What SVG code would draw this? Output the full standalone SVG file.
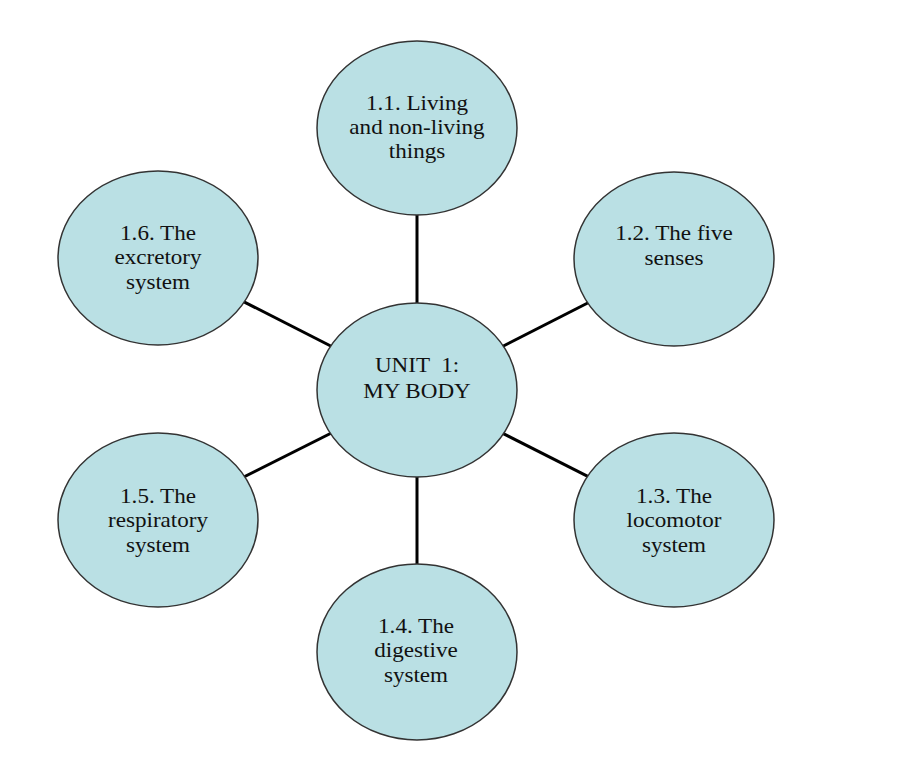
<svg xmlns="http://www.w3.org/2000/svg" width="901" height="771" viewBox="0 0 901 771">
<style>
.n{fill:#bae0e4;stroke:#333;stroke-width:1.5}
.c{stroke:#000;stroke-width:3;fill:none}
.t{font-family:"Liberation Serif","Times New Roman",serif;font-size:21px;fill:#111;text-anchor:middle;white-space:pre}
</style>
<rect width="901" height="771" fill="#fff"/>
<g id="connectors">
<line class="c" x1="417" y1="390" x2="417" y2="128"/>
<line class="c" x1="417" y1="390" x2="674" y2="259"/>
<line class="c" x1="417" y1="390" x2="674" y2="520"/>
<line class="c" x1="417" y1="390" x2="417" y2="652"/>
<line class="c" x1="417" y1="390" x2="158" y2="520"/>
<line class="c" x1="417" y1="390" x2="158" y2="258"/>
</g>
<g id="center">
<ellipse class="n" cx="417" cy="390" rx="100" ry="87"/>
<text class="t" transform="translate(417 372) scale(1.1 1)" xml:space="preserve"><tspan x="0" y="0">UNIT  1:</tspan><tspan x="0" y="26">MY BODY</tspan></text>
</g>
<g id="n11">
<ellipse class="n" cx="417" cy="128" rx="100" ry="87"/>
<text class="t" transform="translate(417 110) scale(1.1 1)"><tspan x="0" y="0">1.1. Living</tspan><tspan x="0" y="24">and non-living</tspan><tspan x="0" y="48">things</tspan></text>
</g>
<g id="n12">
<ellipse class="n" cx="674" cy="259" rx="100" ry="87"/>
<text class="t" transform="translate(674 240) scale(1.1 1)"><tspan x="0" y="0">1.2. The five</tspan><tspan x="0" y="25">senses</tspan></text>
</g>
<g id="n13">
<ellipse class="n" cx="674" cy="520" rx="100" ry="87"/>
<text class="t" transform="translate(674 503) scale(1.1 1)"><tspan x="0" y="0">1.3. The</tspan><tspan x="0" y="24.5">locomotor</tspan><tspan x="0" y="49">system</tspan></text>
</g>
<g id="n14">
<ellipse class="n" cx="417" cy="652" rx="100" ry="88"/>
<text class="t" transform="translate(416 633) scale(1.1 1)"><tspan x="0" y="0">1.4. The</tspan><tspan x="0" y="24.5">digestive</tspan><tspan x="0" y="49">system</tspan></text>
</g>
<g id="n15">
<ellipse class="n" cx="158" cy="520" rx="100" ry="87"/>
<text class="t" transform="translate(158 503) scale(1.1 1)"><tspan x="0" y="0">1.5. The</tspan><tspan x="0" y="24.5">respiratory</tspan><tspan x="0" y="49">system</tspan></text>
</g>
<g id="n16">
<ellipse class="n" cx="158" cy="258" rx="100" ry="87"/>
<text class="t" transform="translate(158 240) scale(1.1 1)"><tspan x="0" y="0">1.6. The</tspan><tspan x="0" y="24.5">excretory</tspan><tspan x="0" y="49">system</tspan></text>
</g>
</svg>
